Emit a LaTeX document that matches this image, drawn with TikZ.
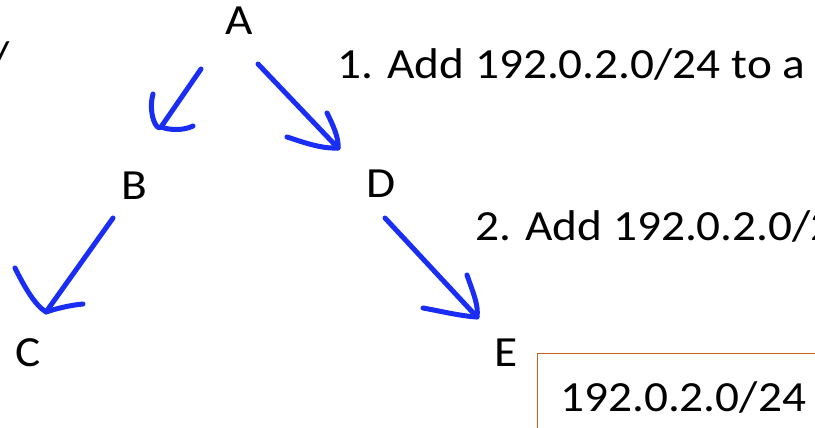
\documentclass[tikz,border=0pt]{standalone}
\usepackage{fontspec}
\setmainfont{Carlito}[FakeStretch=1.1]
\definecolor{penblue}{RGB}{25,45,245}
\definecolor{boxorange}{RGB}{190,100,30}

\begin{document}
\begin{tikzpicture}[x=1pt,y=-1pt]
    \tikzstyle{txt}=[inner sep=0pt,font=\fontsize{43}{50}\selectfont]
    \tikzstyle{pen}=[draw=penblue,line width=5pt,line cap=round,line join=round]
    \useasboundingbox (0,0) rectangle (815,428);
    \clip (0,0) rectangle (815,428);

    \foreach \name/\x/\y in {A/239/35, B/134/199, C/28/366, D/381/197, E/506/366}
        \node[txt,anchor=base] (\name) at (\x,\y) {\name};

    \node[txt,anchor=base east] (cut) at (10,72) {/};
    \node[txt,anchor=base west] (step-1) at (337,79) {1. Add 192.0.2.0/24 to a};
    \node[txt,anchor=base west] (step-2) at (475,240) {2. Add 192.0.2.0/24};

    \node[draw=boxorange,line width=1.2pt,anchor=north west,minimum width=400,minimum height=120] (box) at (537,353) {};
    \node[txt,anchor=base west] (prefix) at (560,411) {192.0.2.0/24};

    % stroke ends of the hand drawn arrows
    \foreach \n/\sx/\sy/\tx/\ty in {AB/201/69/161/127, AD/258/64/338/148, BC/113/218/46/312, DE/385/218/477/317}
    {
        \coordinate (\n-s) at (\sx,\sy);
        \coordinate (\n-t) at (\tx,\ty);
    }

    \draw[pen] (AB-s) -- (AB-t);
    \draw[pen] (153,94) .. controls (148,112) and (156,132) .. (AB-t) .. controls (172,131) and (185,130) .. (193,126);

    \draw[pen] (AD-s) -- (AD-t);
    \draw[pen] (327,113) .. controls (333,125) and (339,138) .. (AD-t) .. controls (320,149) and (300,141) .. (287,137);

    \draw[pen] (BC-s) -- (BC-t);
    \draw[pen] (15,268) .. controls (25,288) and (35,305) .. (BC-t) .. controls (58,308) and (72,305) .. (83,304);

    \draw[pen] (DE-s) -- (DE-t);
    \draw[pen] (467,275) .. controls (472,290) and (479,305) .. (DE-t) .. controls (460,316) and (440,311) .. (423,308);
\end{tikzpicture}
\end{document}
